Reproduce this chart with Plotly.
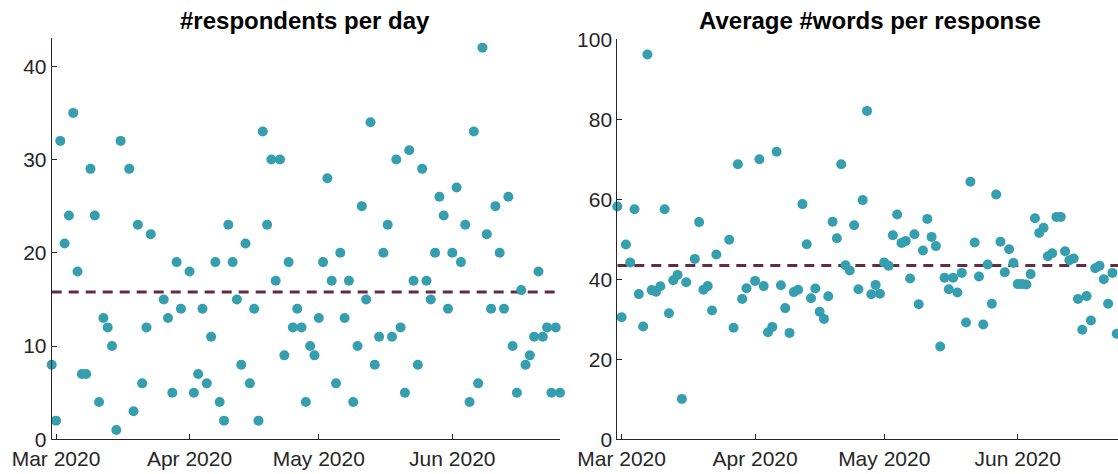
import numpy as np
import pandas as pd
import plotly.graph_objects as go

# Daily survey statistics, 29 Feb 2020 - 26 Jun 2020 (days without responses left out)
START = "2020-02-29"
END = "2020-06-26"
NO_RESPONSE_DAYS = ["2020-03-17", "2020-03-24", "2020-03-25", "2020-03-31"]

respondents = [
    8, 2, 32, 21, 24, 35, 18, 7, 7, 29, 24, 4, 13, 12, 10, 1, 32,
    29, 3, 23, 6, 12, 22,
    15, 13, 5, 19, 14,
    18, 5, 7, 14, 6, 11, 19, 4, 2, 23, 19, 15, 8, 21, 6, 14, 2, 33, 23, 30,
    17, 30, 9, 19, 12, 14, 12,
    4, 10, 9, 13, 19, 28, 17, 6, 20, 13, 17, 4, 10, 25, 15, 34, 8, 11, 20, 23,
    11, 30, 12, 5, 31, 17, 8, 29, 17, 15,
    20, 26, 24, 14, 20, 27, 19, 23, 4, 33, 6, 42, 22, 14, 25, 20, 14, 26, 10, 5,
    16, 8, 9, 11, 18, 11, 12, 5, 12, 5,
]

avg_words = [
    58.2, 30.5, 48.7, 44.2, 57.5, 36.3, 28.2, 96.2, 37.3, 36.9, 38.25, 57.5,
    31.5, 39.75, 41.1, 10.1, 39.25,
    45.1, 54.3, 37.4, 38.3, 32.2, 46.2,
    49.9, 27.9, 68.75, 35.1, 37.75,
    39.6, 70.0, 38.3, 26.75, 28.1, 71.9, 38.5, 32.8, 26.6, 36.8, 37.4, 58.8,
    48.75, 35.25, 37.7, 31.9, 30.1, 35.75, 54.4, 50.25, 68.75, 43.5, 42.2,
    53.5, 37.5, 59.8, 82.1,
    36.25, 38.6, 36.4, 44.2, 43.4, 51.0, 56.2, 49.1, 49.6, 40.2, 51.25, 33.75,
    47.2, 55.1, 50.6, 48.3, 23.2, 40.4, 37.5, 40.4, 36.7, 41.6, 29.2, 64.4,
    49.2, 40.7, 28.7, 43.7, 33.9, 61.2,
    49.4, 41.75, 47.5, 44.1, 38.8, 38.8, 38.7, 41.3, 55.25, 51.6, 52.9, 45.75,
    46.5, 55.6, 55.6, 47.0, 44.75, 45.2, 35.1, 27.4, 35.8, 29.7, 42.75, 43.4,
    40.0, 33.9, 41.6, 26.4, 34.1, None,
]

month_ticks = ["2020-03-01", "2020-04-01", "2020-05-01", "2020-06-01"]
month_labels = ["Mar 2020", "Apr 2020", "May 2020", "Jun 2020"]
resp_ticks = [0, 10, 20, 30, 40]
words_ticks = [0, 20, 40, 60, 80, 100]

all_days = pd.date_range(START, END, freq="D")
dates = all_days[~all_days.isin(pd.to_datetime(NO_RESPONSE_DAYS))]

resp_mean = float(np.mean(respondents))
words_mean = float(np.nanmean(np.array(avg_words, dtype=float)))

DOT = "#359faf"
MEAN_LINE = "#652b45"
AXIS = "#262626"
FONT = "Liberation Sans, Arial, Helvetica, sans-serif"

fig = go.Figure()

# mean lines (drawn beneath the dots)
fig.add_trace(go.Scatter(x=[dates[0], dates[-1]], y=[resp_mean, resp_mean],
                         mode="lines", line=dict(color=MEAN_LINE, width=3, dash="10px,7px"),
                         xaxis="x", yaxis="y", showlegend=False, hoverinfo="skip"))
fig.add_trace(go.Scatter(x=[dates[0], dates[-1]], y=[words_mean, words_mean],
                         mode="lines", line=dict(color=MEAN_LINE, width=3, dash="10px,7px"),
                         xaxis="x2", yaxis="y2", showlegend=False, hoverinfo="skip"))

fig.add_trace(go.Scatter(x=dates, y=respondents, mode="markers",
                         marker=dict(color=DOT, size=10, line=dict(width=0)),
                         cliponaxis=False, xaxis="x", yaxis="y", showlegend=False))
fig.add_trace(go.Scatter(x=dates, y=avg_words, mode="markers",
                         marker=dict(color=DOT, size=10, line=dict(width=0)),
                         cliponaxis=False, xaxis="x2", yaxis="y2", showlegend=False))

W, H = 1118, 474

axis_common = dict(showline=True, linecolor=AXIS, linewidth=1, ticks="inside",
                   ticklen=5, tickwidth=1, tickcolor=AXIS, showgrid=False,
                   zeroline=False, automargin=False,
                   tickfont=dict(family=FONT, size=21, color=AXIS))

fig.update_layout(
    width=W, height=H,
    margin=dict(l=0, r=0, t=0, b=0, pad=0),
    paper_bgcolor="white", plot_bgcolor="white",
    xaxis=dict(domain=[51.7 / W, 560 / W], type="date", range=[START, END],
               tickvals=month_ticks, ticktext=month_labels, anchor="y", **axis_common),
    yaxis=dict(domain=[(H - 439.3) / H, (H - 38.3) / H], range=[0, 43],
               tickvals=resp_ticks, anchor="x", **axis_common),
    xaxis2=dict(domain=[617.3 / W, 1.0], type="date",
                range=[START, "2020-06-24 07:00"],
                tickvals=month_ticks, ticktext=month_labels, anchor="y2", **axis_common),
    yaxis2=dict(domain=[(H - 439.3) / H, (H - 39.3) / H], range=[0, 100],
                tickvals=words_ticks, anchor="x2", **axis_common),
    annotations=[
        dict(text="<b>#respondents per day</b>", x=305 / W, y=(H - 20) / H,
             xref="paper", yref="paper", xanchor="center", yanchor="middle",
             showarrow=False, font=dict(family=FONT, size=24, color="black")),
        dict(text="<b>Average #words per response</b>", x=870 / W, y=(H - 20) / H,
             xref="paper", yref="paper", xanchor="center", yanchor="middle",
             showarrow=False, font=dict(family=FONT, size=24, color="black")),
    ],
)

fig.write_html("out.html")
